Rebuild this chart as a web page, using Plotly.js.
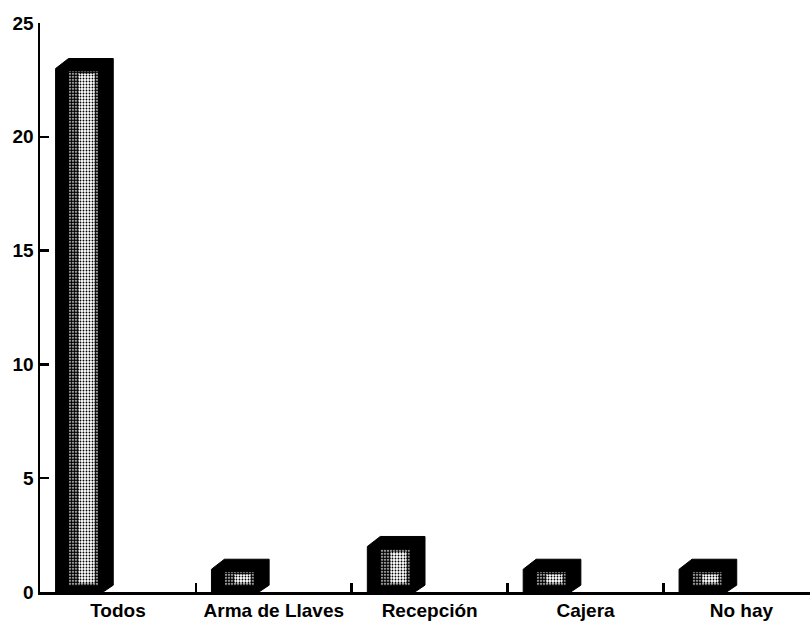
<!DOCTYPE html>
<html>
<head>
<meta charset="utf-8">
<script src="https://cdn.plot.ly/plotly-3.0.1.min.js"></script>
<style>
  html, body { margin: 0; padding: 0; background: #fff; }
  #chart { width: 810px; height: 628px; }
</style>
</head>
<body>
<div id="chart"></div>
<script>
// Categories and counts
const categories = ['Todos', 'Arma de Llaves', 'Recepción', 'Cajera', 'No hay'];
const counts = [23, 1, 2, 1, 1];
const yTicks = [0, 5, 10, 15, 20, 25];

// Bar geometry, in axis units relative to each category centre
const BAR_LEFT = -0.40;      // left edge of the front face
const BAR_RIGHT = -0.03;     // right edge of the side face
const DEPTH_X = 0.083;       // horizontal extrusion
const DEPTH_Y = 0.44;        // vertical extrusion
const FOOT_X = 0.065;        // bevel at the foot of the side face
const FOOT_Y = 0.30;

const idx = categories.map((_, i) => i);

// Solid black outline of each extruded bar (front, top and side)
const bodyX = [], bodyY = [];
counts.forEach((v, i) => {
  bodyX.push(i + BAR_LEFT, i + BAR_LEFT, i + BAR_LEFT + DEPTH_X, i + BAR_RIGHT,
             i + BAR_RIGHT, i + BAR_RIGHT - FOOT_X, i + BAR_LEFT, null);
  bodyY.push(0, v, v + DEPTH_Y, v + DEPTH_Y, FOOT_Y, 0, 0, null);
});

const body = {
  type: 'scatter', mode: 'lines', x: bodyX, y: bodyY,
  fill: 'toself', fillcolor: '#000', line: { color: '#000', width: 1 },
  hoverinfo: 'skip', showlegend: false
};

// Dithered highlight on the front face: a rectangle per bar
function strip(x0, x1, bottom, topInset) {
  const xs = [], ys = [];
  counts.forEach((v, i) => {
    const top = v - topInset;
    xs.push(i + x0, i + x1, i + x1, i + x0, i + x0, null);
    ys.push(bottom, bottom, top, top, bottom, null);
  });
  return { xs, ys };
}

function shade(s, solidity) {
  return {
    type: 'scatter', mode: 'lines', x: s.xs, y: s.ys,
    fill: 'toself', fillcolor: '#fff', line: { width: 0, color: 'rgba(0,0,0,0)' },
    fillpattern: { shape: '.', fgcolor: '#000', bgcolor: '#fff', size: 3, solidity: solidity },
    hoverinfo: 'skip', showlegend: false
  };
}

const outer = strip(-0.314, -0.128, 0.28, 0.12);
const inner = strip(-0.25, -0.15, 0.38, 0.24);

const axisFont = { family: 'Liberation Sans, Arial, sans-serif', size: 19, color: '#000', weight: 'bold' };

const layout = {
  width: 810, height: 628,
  margin: { l: 40, r: 0, t: 23, b: 36 },
  paper_bgcolor: '#fff', plot_bgcolor: '#fff',
  showlegend: false,
  xaxis: {
    range: [-0.5, 4.44],
    tickmode: 'array', tickvals: idx, ticktext: categories,
    ticks: '', showgrid: false, zeroline: false,
    showline: true, linecolor: '#000', linewidth: 2.5,
    tickfont: axisFont,
    minor: { tickmode: 'array', tickvals: [0.5, 1.5, 2.5, 3.5], ticks: 'inside', ticklen: 9, tickwidth: 2.5, tickcolor: '#000', showgrid: false }
  },
  yaxis: {
    range: [0, 25],
    tickmode: 'array', tickvals: yTicks,
    ticks: 'inside', ticklen: 9, tickwidth: 2.5, tickcolor: '#000',
    showgrid: false, zeroline: false,
    showline: true, linecolor: '#000', linewidth: 2.5,
    tickfont: axisFont
  }
};

Plotly.newPlot('chart', [body, shade(outer, 0.75), shade(inner, 0.3)], layout, { displayModeBar: false, staticPlot: true });
</script>
</body>
</html>
